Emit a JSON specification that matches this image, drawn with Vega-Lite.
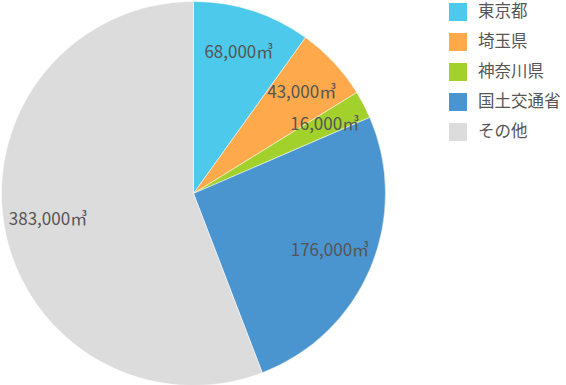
{
  "$schema": "https://vega.github.io/schema/vega-lite/v6.json",
  "width": 385,
  "height": 385,
  "padding": 0,
  "background": "white",
  "data": {
    "values": [
      {"idx": 1, "name": "東京都", "volume": 68000, "label": "68,000㎥"},
      {"idx": 2, "name": "埼玉県", "volume": 43000, "label": "43,000㎥"},
      {"idx": 3, "name": "神奈川県", "volume": 16000, "label": "16,000㎥"},
      {"idx": 4, "name": "国土交通省", "volume": 176000, "label": "176,000㎥"},
      {"idx": 5, "name": "その他", "volume": 383000, "label": "383,000㎥"}
    ]
  },
  "encoding": {
    "theta": {"field": "volume", "type": "quantitative", "stack": true},
    "order": {"field": "idx", "type": "quantitative"}
  },
  "layer": [
    {
      "mark": {"type": "arc", "outerRadius": 192, "stroke": "white", "strokeWidth": 0.5},
      "encoding": {
        "color": {
          "field": "name",
          "type": "nominal",
          "sort": ["東京都", "埼玉県", "神奈川県", "国土交通省", "その他"],
          "scale": {
            "domain": ["東京都", "埼玉県", "神奈川県", "国土交通省", "その他"],
            "range": ["#4dc9ec", "#ffa94d", "#a3d12c", "#4a94d0", "#dcdcdc"]
          },
          "legend": {
            "title": null,
            "orient": "right",
            "offset": 61,
            "padding": 2,
            "symbolType": "square",
            "symbolSize": 324,
            "symbolStrokeWidth": 0,
            "symbolOpacity": 1,
            "labelFont": "Noto Sans CJK JP",
            "labelFontSize": 16.5,
            "labelColor": "#555555",
            "labelOffset": 11,
            "labelLimit": 200,
            "rowPadding": 12
          }
        }
      }
    },
    {
      "mark": {"type": "text", "radius": 148, "font": "Noto Sans CJK JP", "fontSize": 17, "color": "#555555"},
      "encoding": {
        "text": {"field": "label", "type": "nominal"}
      }
    }
  ],
  "config": {"view": {"stroke": null}}
}
